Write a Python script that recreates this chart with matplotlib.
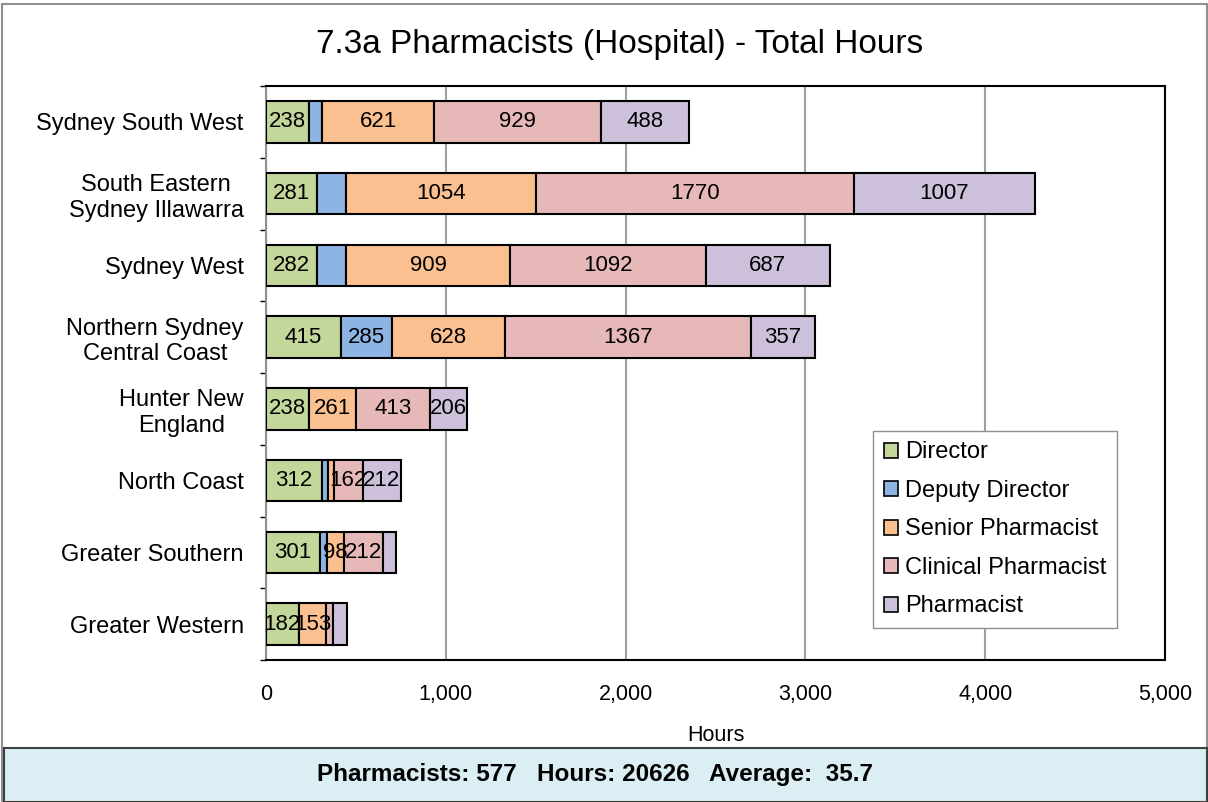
import matplotlib.pyplot as plt
from matplotlib.patches import Rectangle
from matplotlib.ticker import FuncFormatter, MultipleLocator

plt.rcParams['font.family'] = ['Liberation Sans', 'DejaVu Sans']

# Areas (top to bottom) and hours per role
areas = ['Sydney South West', 'South Eastern\nSydney Illawarra', 'Sydney West',
         'Northern Sydney\nCentral Coast', 'Hunter New\nEngland', 'North Coast',
         'Greater Southern', 'Greater Western']
roles = ['Director', 'Deputy Director', 'Senior Pharmacist', 'Clinical Pharmacist', 'Pharmacist']
director = [238, 281, 282, 415, 238, 312, 301, 182]
deputy = [75, 165, 165, 285, 0, 32, 37, 0]
senior = [621, 1054, 909, 628, 261, 33, 98, 153]
clinical = [929, 1770, 1092, 1367, 413, 162, 212, 38]
pharmacist = [488, 1007, 687, 357, 206, 212, 74, 80]

# which segments carry a value label in the original
show_director = [1, 1, 1, 1, 1, 1, 1, 1]
show_deputy = [0, 0, 0, 1, 0, 0, 0, 0]
show_senior = [1, 1, 1, 1, 1, 0, 1, 1]
show_clinical = [1, 1, 1, 1, 1, 1, 1, 0]
show_pharmacist = [1, 1, 1, 1, 1, 1, 0, 0]

colors = ['#C4D79B', '#8DB4E2', '#FAC090', '#E6B9B8', '#CCC0DA']
summary = 'Pharmacists: 577   Hours: 20626   Average:  35.7'

series = [director, deputy, senior, clinical, pharmacist]
shows = [show_director, show_deputy, show_senior, show_clinical, show_pharmacist]

fig = plt.figure(figsize=(12.08, 8.02), dpi=100)
ax = fig.add_axes([0.2202, 0.177, 0.7442, 0.7157])

y = list(range(len(areas)))
left = [0] * len(areas)
for name, vals, show, col in zip(roles, series, shows, colors):
    bars = ax.barh(y, vals, left=left, height=0.58, color=col, edgecolor='black',
                   linewidth=1.5, label=name, zorder=3)
    for bar, v, s in zip(bars, vals, show):
        if s and v > 0:
            ax.text(bar.get_x() + bar.get_width() / 2, bar.get_y() + bar.get_height() / 2,
                    str(v), ha='center', va='center', fontsize=16, zorder=4)
    left = [a + b for a, b in zip(left, vals)]

ax.set_xlim(0, 5000)
ax.set_ylim(len(areas) - 0.5, -0.5)
ax.set_yticks(y)
ax.set_yticklabels(areas, fontsize=17)
plt.setp(ax.get_yticklabels(), multialignment='center')
ax.yaxis.set_minor_locator(MultipleLocator(0.5))
ax.tick_params(axis='y', which='major', length=0, pad=16)
ax.tick_params(axis='y', which='minor', length=4, width=1, color='black', direction='out')
ax.xaxis.set_major_formatter(FuncFormatter(lambda v, p: f'{int(v):,}'))
ax.tick_params(axis='x', length=0, pad=17, labelsize=15.5)
ax.set_xlabel('Hours', fontsize=15.5, labelpad=15)
ax.grid(axis='x', color='#A0A0A0', linewidth=1.5, zorder=0)
for side in ['top', 'right', 'bottom']:
    ax.spines[side].set_color('black')
    ax.spines[side].set_linewidth(1.5)
ax.spines['left'].set_color('#909090')
ax.spines['left'].set_linewidth(1.5)

leg = ax.legend(loc='lower right', bbox_to_anchor=(0.9466, 0.0557), fontsize=17,
                frameon=True, fancybox=False, edgecolor='#909090', framealpha=1,
                handlelength=0.6, handleheight=0.6, handletextpad=0.3,
                labelspacing=0.7, borderpad=0.45, borderaxespad=0)
for h in leg.legend_handles:
    h.set_linewidth(1.2)

fig.text(620 / 1208, 1 - 45 / 802, '7.3a Pharmacists (Hospital) - Total Hours',
         ha='center', va='center', fontsize=24)

# outer frame and summary box
fig.patches.append(Rectangle((0.002, 0.0), 0.997, 0.995, transform=fig.transFigure,
                             fill=False, edgecolor='#909090', linewidth=1.5))
fig.patches.append(Rectangle((0.003, 0.0), 0.996, 54 / 802, transform=fig.transFigure,
                             facecolor='#DAEEF3', edgecolor='#404040', linewidth=1.5))
fig.text(595 / 1208, 27 / 802, summary, ha='center', va='center',
         fontsize=17.5, fontweight='bold')

plt.savefig('out.png', dpi=100)
